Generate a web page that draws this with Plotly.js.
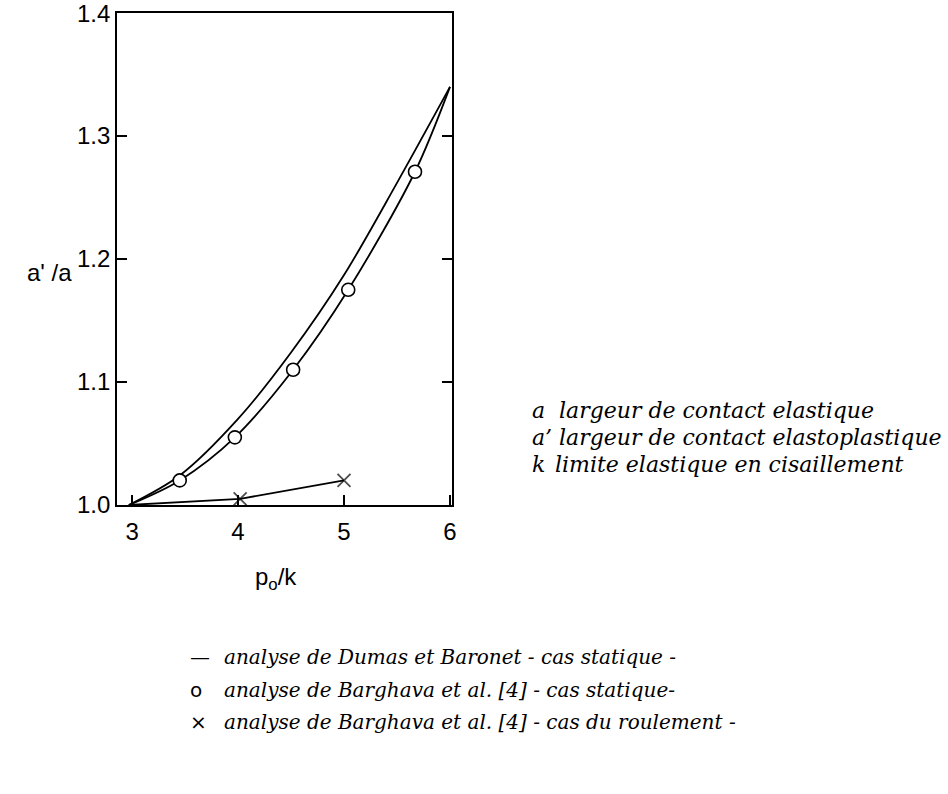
<!DOCTYPE html>
<html>
<head>
<meta charset="utf-8">
<script src="https://cdn.plot.ly/plotly-3.0.1.min.js"></script>
<style>
html,body{margin:0;padding:0;background:#fff;}
#chart{width:948px;height:794px;}
</style>
</head>
<body>
<div id="chart"></div>
<script>
// ---- data ----
var xDumas = [2.97, 3.45, 4.0, 4.5, 5.0, 5.5, 6.0];
var yDumas = [1.0, 1.024, 1.07, 1.124, 1.187, 1.262, 1.34];

var xBargStat = [2.97, 3.45, 3.97, 4.52, 5.04, 5.67, 6.0];
var yBargStat = [1.0, 1.02, 1.055, 1.11, 1.175, 1.271, 1.34];

var xBargRoul = [2.97, 4.02, 5.0];
var yBargRoul = [1.0, 1.005, 1.02];

var xTicks = [3, 4, 5, 6];
var yTicks = [1.0, 1.1, 1.2, 1.3, 1.4];
var yTickText = ['1.0', '1.1', '1.2', '1.3', '1.4'];

var xTitle = 'p<sub>o</sub>/k';
var yTitle = "a' /a";

var defSymbols = ['a', 'a\u2019', 'k'];
var defTexts = ['largeur de contact elastique',
                'largeur de contact elastoplastique',
                'limite elastique en cisaillement'];

var legSymbols = ['\u2014', 'o', '\u00d7'];
var legTexts = ['analyse de Dumas et Baronet - cas statique -',
                'analyse de Barghava et al. [4] - cas statique-',
                'analyse de Barghava et al. [4] - cas du roulement -'];

// ---- layout geometry (pixels) ----
var W = 948, H = 794;
var L = 117, R = 452, T = 13, B = 505;
function px(xp){ return (xp - L) / (R - L); }
function py(yp){ return (B - yp) / (B - T); }

function sizesExceptEnds(n, s){
  var a = [];
  for (var i = 0; i < n; i++) a.push((i === 0 || i === n - 1) ? 0 : s);
  return a;
}
function sizesExceptFirst(n, s){
  var a = [];
  for (var i = 0; i < n; i++) a.push(i === 0 ? 0 : s);
  return a;
}

var traces = [
  {
    x: xDumas, y: yDumas, type: 'scatter', mode: 'lines',
    line: {color: '#000', width: 1.8, shape: 'spline', smoothing: 0.9},
    hoverinfo: 'skip'
  },
  {
    x: xBargStat, y: yBargStat, type: 'scatter', mode: 'lines+markers',
    line: {color: '#000', width: 1.8, shape: 'spline', smoothing: 0.9},
    marker: {symbol: 'circle', size: sizesExceptEnds(xBargStat.length, 13),
             color: '#ffffff', opacity: 1, line: {color: '#000', width: 1.6}},
    hoverinfo: 'skip'
  },
  {
    x: xBargRoul, y: yBargRoul, type: 'scatter', mode: 'lines+markers',
    line: {color: '#000', width: 1.8},
    marker: {symbol: 'x-thin-open', size: sizesExceptFirst(xBargRoul.length, 13),
             color: '#000', line: {color: '#000', width: 1.8}},
    hoverinfo: 'skip'
  }
];

var tickFont = {family: 'Liberation Sans, Arial, sans-serif', size: 24, color: '#000'};
var serifIt = 'DejaVu Serif, Liberation Serif, serif';

var annotations = [];
// axis titles
annotations.push({xref: 'paper', yref: 'paper', x: px(74), y: py(272),
  xanchor: 'right', yanchor: 'middle', text: yTitle, showarrow: false, font: tickFont});
annotations.push({xref: 'paper', yref: 'paper', x: px(276), y: py(578),
  xanchor: 'center', yanchor: 'middle', text: xTitle, showarrow: false, font: tickFont});

// definitions block
var defY0 = 410, defDy = 27;
for (var i = 0; i < defTexts.length; i++) {
  annotations.push({xref: 'paper', yref: 'paper', x: px(530), y: py(defY0 + i * defDy),
    xanchor: 'left', yanchor: 'middle', showarrow: false,
    text: '<i>' + defSymbols[i] + '</i>',
    font: {family: serifIt, size: 22, color: '#000'}});
  annotations.push({xref: 'paper', yref: 'paper', x: px(i === 2 ? 553 : 557), y: py(defY0 + i * defDy),
    xanchor: 'left', yanchor: 'middle', showarrow: false,
    text: '<i>' + defTexts[i] + '</i>',
    font: {family: serifIt, size: 22, color: '#000'}});
}

// legend block
var legY0 = 657, legDy = 32.5;
for (var j = 0; j < legTexts.length; j++) {
  annotations.push({xref: 'paper', yref: 'paper', x: px(188), y: py(legY0 + j * legDy),
    xanchor: 'left', yanchor: 'middle', showarrow: false,
    text: legSymbols[j],
    font: {family: 'DejaVu Sans, sans-serif', size: 20, color: '#000'}});
  annotations.push({xref: 'paper', yref: 'paper', x: px(222), y: py(legY0 + j * legDy),
    xanchor: 'left', yanchor: 'middle', showarrow: false,
    text: '<i>' + legTexts[j] + '</i>',
    font: {family: serifIt, size: 20, color: '#000'}});
}

var layout = {
  width: W, height: H,
  margin: {l: L, r: W - R, t: T, b: H - B, pad: 0},
  paper_bgcolor: '#fff', plot_bgcolor: '#fff',
  showlegend: false,
  xaxis: {
    range: [2.858, 6.019], tickvals: xTicks, ticktext: xTicks.map(String),
    ticks: 'inside', ticklen: 10, tickwidth: 1.5, tickcolor: '#000',
    showline: true, linecolor: '#000', linewidth: 1.8, mirror: true,
    showgrid: false, zeroline: false, tickfont: tickFont, ticklabelstandoff: 4,
    ticklabeloverflow: 'allow', fixedrange: true
  },
  yaxis: {
    range: [1.0, 1.4001], tickvals: yTicks, ticktext: yTickText,
    ticks: 'inside', ticklen: 10, tickwidth: 1.5, tickcolor: '#000',
    showline: true, linecolor: '#000', linewidth: 1.8, mirror: 'ticks',
    showgrid: false, zeroline: false, tickfont: tickFont, ticklabelstandoff: 0,
    ticklabeloverflow: 'allow', fixedrange: true
  },
  annotations: annotations
};

Plotly.newPlot('chart', traces, layout, {staticPlot: true, displayModeBar: false});
</script>
</body>
</html>
